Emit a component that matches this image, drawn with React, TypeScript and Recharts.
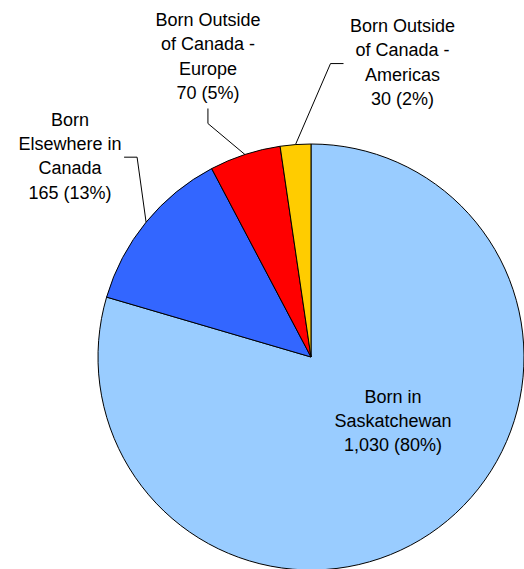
import { PieChart, Pie, Cell } from 'recharts';

const categories = [
  'Born in Saskatchewan',
  'Born Elsewhere in Canada',
  'Born Outside of Canada - Europe',
  'Born Outside of Canada - Americas',
];
const values = [1030, 165, 70, 30];
const labelLines = [
  ['Born in', 'Saskatchewan'],
  ['Born', 'Elsewhere in', 'Canada'],
  ['Born Outside', 'of Canada -', 'Europe'],
  ['Born Outside', 'of Canada -', 'Americas'],
];
const colors = ['#99CCFF', '#3366FF', '#FF0000', '#FFCC00'];

const RADIAN = Math.PI / 180;
const LINE_H = 24.3;

// leader line layout per slice: elbow offset from arc point, end offset from elbow, text block centre from end
const leader = [
  null,
  { elbow: [-9, -65], end: [-13, 0], text: [-54, -1] },
  { elbow: [-37, -31], end: [0, -15], text: [0, -52] },
  { elbow: [35, -81], end: [13, 0], text: [59, -1] },
];

function renderLabel(props: any) {
  const { cx, cy, midAngle, outerRadius, index, percent, value } = props;
  const lines = [...labelLines[index], `${value.toLocaleString('en-US')} (${Math.round(percent * 100)}%)`];
  const textProps = { fontFamily: 'Liberation Sans, Arial, sans-serif', fontSize: 18, fill: '#000', textAnchor: 'middle' as const, dominantBaseline: 'central' as const };

  const block = (x: number, y: number) =>
    lines.map((t, i) => (
      <text key={i} x={x} y={y + (i - (lines.length - 1) / 2) * LINE_H} {...textProps}>
        {t}
      </text>
    ));

  const cfg = leader[index];
  if (!cfg) {
    return <g>{block(cx + 82, cy + 64)}</g>;
  }
  const ax = cx + outerRadius * Math.cos(-midAngle * RADIAN);
  const ay = cy + outerRadius * Math.sin(-midAngle * RADIAN);
  const ex = ax + cfg.elbow[0];
  const ey = ay + cfg.elbow[1];
  const nx = ex + cfg.end[0];
  const ny = ey + cfg.end[1];
  return (
    <g>
      <polyline points={`${ax},${ay} ${ex},${ey} ${nx},${ny}`} fill="none" stroke="#000" strokeWidth={1} />
      {block(nx + cfg.text[0], ny + cfg.text[1])}
    </g>
  );
}

export default function App() {
  const data = categories.map((name, i) => ({ name, value: values[i] }));
  return (
    <div style={{ position: 'absolute', left: 0, top: 0, width: 524, height: 569, background: '#fff' }}>
      <PieChart width={524} height={569} margin={{ top: 0, right: 0, bottom: 0, left: 0 }}>
        <Pie
          data={data}
          dataKey="value"
          nameKey="name"
          cx={311}
          cy={357}
          outerRadius={213}
          startAngle={90}
          endAngle={-270}
          stroke="#000"
          strokeWidth={1}
          label={renderLabel}
          labelLine={false}
          isAnimationActive={false}
        >
          {data.map((d, i) => (
            <Cell key={d.name} fill={colors[i]} />
          ))}
        </Pie>
      </PieChart>
    </div>
  );
}
